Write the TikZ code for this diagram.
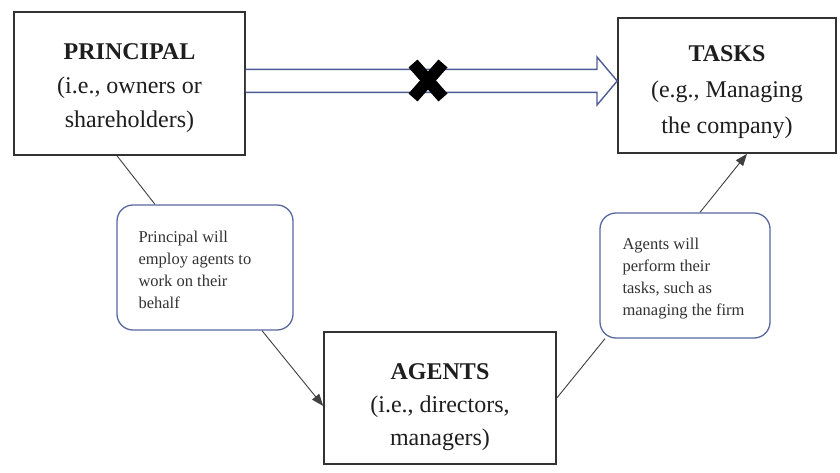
\documentclass[tikz,border=0pt]{standalone}
\usepackage{fontspec}
\setmainfont{Liberation Serif}
\usetikzlibrary{arrows.meta}
\definecolor{callblue}{RGB}{88,104,160}
\definecolor{arrblue}{RGB}{78,92,150}
\definecolor{boxline}{RGB}{50,50,50}
\definecolor{txt}{RGB}{30,30,30}
\definecolor{ctxt}{RGB}{50,50,50}
\tikzset{
  mainbox/.style={draw=boxline, line width=1.6pt, fill=white, inner sep=0pt},
  maintext/.style={align=center, text=txt, font=\fontsize{24}{34}\selectfont, inner sep=0pt},
  callout/.style={draw=callblue, line width=1.3pt, rounded corners=16pt, fill=white, inner sep=0pt},
  calltext/.style={align=left, text=ctxt, font=\fontsize{16.5}{22}\selectfont, inner sep=0pt, anchor=west},
  conn/.style={draw=black!75, line width=0.9pt},
  connarrow/.style={conn, -{Triangle[length=12pt,width=9pt]}},
  bigarrow/.style={draw=arrblue, line width=1.4pt, fill=white, line join=miter},
  cross/.style={draw=black, line width=12pt}
}
\begin{document}
\begin{tikzpicture}[x=1pt,y=-1pt]
\useasboundingbox (0,0) rectangle (840,472);
\fill[white] (0,0) rectangle (840,472);

\node[mainbox, minimum width=231pt, minimum height=143pt] (p) at (129.5,83.5) {};
\node[maintext] (ptx) at ([yshift=-4.5pt]p.center)
  {\textbf{PRINCIPAL}\\(i.e., owners or\\shareholders)};
\node[mainbox, minimum width=218pt, minimum height=135pt] (t) at (727,85.5) {};
\node[maintext, font=\fontsize{24}{36}\selectfont] (ttx) at ([yshift=-6.5pt]t.center)
  {\textbf{TASKS}\\(e.g., Managing\\the company)};
\node[mainbox, minimum width=232pt, minimum height=132pt] (a) at (440,398) {};
\node[maintext, font=\fontsize{24}{33}\selectfont] (atx) at ([yshift=-9pt]a.center)
  {\textbf{AGENTS}\\(i.e., directors,\\managers)};

\node[callout, minimum width=176pt, minimum height=125pt] (l) at (205,267.5) {};
\node[calltext] (lt) at ([xshift=22pt,yshift=-2pt]l.west)
  {Principal will\\employ agents to\\work on their\\behalf};
\node[callout, minimum width=170pt, minimum height=125pt] (r) at (685,275.5) {};
\node[calltext] (rt) at ([xshift=23pt,yshift=-3.5pt]r.west)
  {Agents will\\perform their\\tasks, such as\\managing the firm};

% big hollow arrow
\draw[bigarrow] (p.east |- 0,69.3) -- (597,69.3) -- (597,57) -- (t.west |- 0,81)
  -- (597,105) -- (597,92.3) -- (p.east |- 0,92.3);
% cross
\coordinate (xc) at (428,80.5);
\draw[cross] ([xshift=-15pt,yshift=17pt]xc) -- ([xshift=15pt,yshift=-17pt]xc);
\draw[cross] ([xshift=15pt,yshift=17pt]xc) -- ([xshift=-15pt,yshift=-17pt]xc);

% connectors
\draw[conn] ([xshift=-12.5pt]p.south) -- ([xshift=-50pt]l.north);
\draw[connarrow] ([xshift=57pt]l.south) -- ([yshift=-8pt]a.west);
\draw[conn] (a.east) -- ([xshift=-80pt]r.south);
\draw[connarrow] ([xshift=15pt]r.north) -- ([xshift=20pt]t.south);
\end{tikzpicture}
\end{document}
